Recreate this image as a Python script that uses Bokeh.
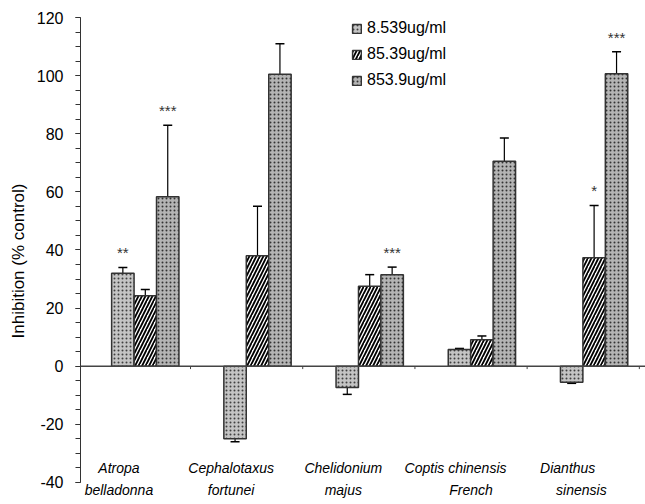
from bokeh.plotting import figure
from bokeh.models import (Range1d, ColumnDataSource, Whisker, TeeHead, Span,
                          Legend, LegendItem, SingleIntervalTicker, PrintfTickFormatter)
from bokeh.core.properties import value
from bokeh.embed import file_html
from bokeh.resources import INLINE

# ---- data ----
label_line1 = ["Atropa", "Cephalotaxus", "Chelidonium", "Coptis chinensis", "Dianthus"]
label_line2 = ["belladonna", "fortunei", "majus",
               "\u00a0\u00a0\u00a0\u00a0\u00a0\u00a0\u00a0\u00a0French",
               "\u00a0\u00a0\u00a0\u00a0\u00a0\u00a0\u00a0sinensis"]
series = ["8.539ug/ml", "85.39ug/ml", "853.9ug/ml"]

low = [32.0, -25.0, -7.3, 5.7, -5.5]
low_err = [2.0, 1.0, 2.4, 0.4, 0.4]
mid = [24.2, 38.0, 27.5, 9.1, 37.3]
mid_err = [2.2, 17.0, 4.0, 1.3, 18.0]
high = [58.3, 100.5, 31.5, 70.5, 100.6]
high_err = [24.6, 10.5, 2.6, 8.0, 7.6]

sig_low = ["**", "", "", "", ""]
sig_mid = ["", "", "", "", "*"]
sig_high = ["***", "", "***", "", "***"]

FONT = "Liberation Sans"

idx = list(range(1, len(label_line1) + 1))
bw = 0.2

p = figure(width=645, height=504, output_backend="svg", toolbar_location=None,
           x_range=Range1d(0.4225, 5.458), y_range=Range1d(-47.6, 120),
           min_border_left=80, min_border_right=0, min_border_top=17,
           min_border_bottom=0)
p.xaxis.visible = False
p.grid.visible = False
p.outline_line_color = None
p.background_fill_color = "white"
p.border_fill_color = "white"

ya = p.yaxis[0]
ya.ticker = SingleIntervalTicker(interval=20, num_minor_ticks=4)
ya.formatter = PrintfTickFormatter(format="%d")
ya.bounds = (-40, 120)
ya.axis_line_color = "#333333"
ya.axis_line_width = 1
ya.major_tick_line_color = "#333333"
ya.minor_tick_line_color = "#333333"
ya.major_tick_in = 0
ya.major_tick_out = 5
ya.minor_tick_in = 0
ya.minor_tick_out = 5
ya.major_label_text_font = FONT
ya.major_label_text_font_size = "16px"
ya.major_label_text_color = "black"
ya.major_label_standoff = 12
ya.axis_label = "Inhibition (% control)"
ya.axis_label_text_font = FONT
ya.axis_label_text_font_style = "normal"
ya.axis_label_text_font_size = "17px"
ya.axis_label_text_color = "black"
ya.axis_label_standoff = 6

styles = [
    dict(fill_color="#c4c4c4", hatch_pattern="dot", hatch_color="#404040",
         hatch_scale=4, hatch_weight=1),
    dict(fill_color="white", hatch_pattern="right_diagonal_line", hatch_color="black",
         hatch_scale=7, hatch_weight=1.8),
    dict(fill_color="#b4b4b4", hatch_pattern="dot", hatch_color="#333333",
         hatch_scale=4, hatch_weight=1),
]

vals = [low, mid, high]
errs = [low_err, mid_err, high_err]
sigs = [sig_low, sig_mid, sig_high]
offsets = [-bw, 0.0, bw]

zero = Span(location=0, dimension="width", line_color="#444444", line_width=1.5)
p.add_layout(zero)

renderers = []
for k in range(3):
    xs = [i + offsets[k] for i in idx]
    src = ColumnDataSource(dict(
        x=xs, top=vals[k],
        lower=[v - e for v, e in zip(vals[k], errs[k])],
        upper=[v + e for v, e in zip(vals[k], errs[k])],
        sig=sigs[k],
        sy=[v + e + 5 for v, e in zip(vals[k], errs[k])],
    ))
    r = p.vbar(x="x", top="top", bottom=0, width=bw, source=src,
               line_color="#333333", line_width=1.5, **styles[k])
    renderers.append(r)
    w = Whisker(source=src, base="x", lower="lower", upper="upper",
                line_color="black", line_width=1.2,
                upper_head=TeeHead(size=9, line_color="black", line_width=1.5),
                lower_head=TeeHead(size=9, line_color="black", line_width=1.5))
    p.add_layout(w)
    p.text(x="x", y="sy", text="sig", source=src, text_align="center",
           text_baseline="middle", text_font=value(FONT), text_font_size="15px",
           text_color="#333333")

# small category ticks on the zero line
tx = [i + 0.403 for i in idx]
p.segment(x0=tx, x1=tx, y0=[0] * len(tx), y1=[-1.0] * len(tx),
          line_color="#444444", line_width=1)

# category labels
lsrc = ColumnDataSource(dict(x=[i - 0.235 for i in idx],
                             l1=label_line1, l2=label_line2,
                             y1=[-35.0] * len(idx), y2=[-42.6] * len(idx)))
for col, yc in (("l1", "y1"), ("l2", "y2")):
    p.text(x="x", y=yc, text=col, source=lsrc, text_align="center",
           text_baseline="middle", text_font=value(FONT),
           text_font_style="italic", text_font_size="14px", text_color="black")

legend = Legend(items=[LegendItem(label=series[k], renderers=[renderers[k]])
                       for k in range(3)],
                location=(271, 414), orientation="vertical",
                glyph_width=11, glyph_height=11, label_standoff=5,
                label_height=20, spacing=6, padding=0, margin=0,
                label_text_font=FONT, label_text_font_size="16px",
                label_text_color="black",
                background_fill_alpha=0, border_line_alpha=0)
p.add_layout(legend)

open("out.html", "w").write(file_html(p, INLINE))
